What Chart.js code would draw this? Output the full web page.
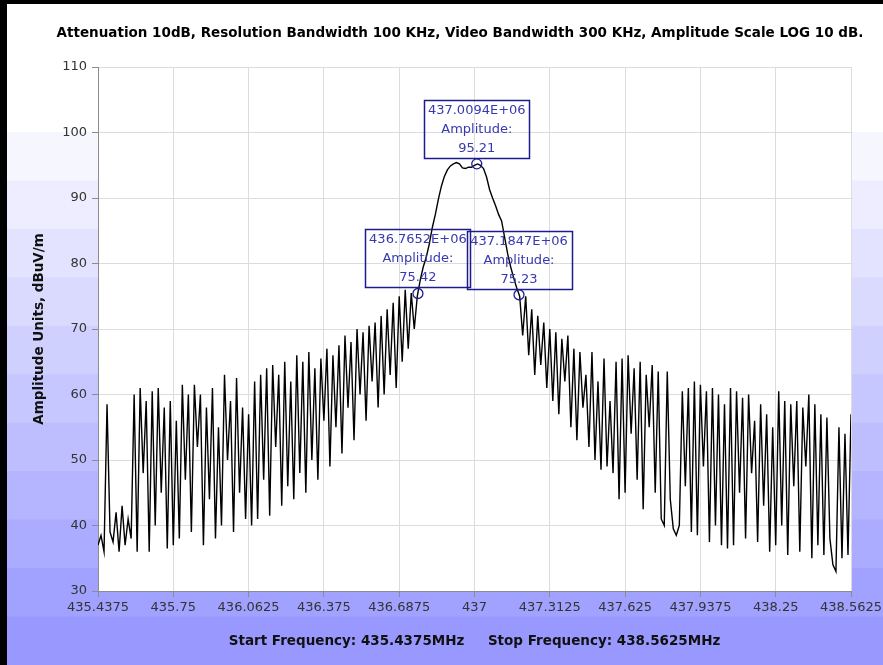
<!DOCTYPE html>
<html>
<head>
<meta charset="utf-8">
<script src="https://cdn.jsdelivr.net/npm/chart.js@4.4.1/dist/chart.umd.min.js"></script>
<style>
  html, body { margin: 0; padding: 0; background: #fff; }
  canvas { display: block; }
</style>
</head>
<body>
<canvas id="spectrum" width="883" height="665"></canvas>
<script>
// Textos
const chartTitle = 'Attenuation 10dB, Resolution Bandwidth 100 KHz, Video Bandwidth 300 KHz, Amplitude Scale LOG 10 dB.';
const yTitle = 'Amplitude Units, dBuV/m';
const xTitle = 'Start Frequency: 435.4375MHz\u00a0\u00a0\u00a0\u00a0 Stop Frequency: 438.5625MHz';

// Barrido (MHz)
const startFreq = 435.4375;
const stopFreq = 438.5625;
const freqTicks = [435.4375, 435.75, 436.0625, 436.375, 436.6875, 437, 437.3125, 437.625, 437.9375, 438.25, 438.5625];

// Amplitud medida en cada punto del barrido (dBuV/m)
const amplitudes = [
  37, 38.5, 36, 58.5, 39, 37.5, 42, 36, 43, 37, 41, 38,
  60, 36, 61, 48, 59, 36, 60.5, 40, 61, 45, 58, 36.5, 59, 37,
  56, 38, 61.5, 47, 60, 39, 61.5, 52, 60, 37, 58, 44, 61, 38, 55, 40, 63, 50, 59, 39, 62.5, 45, 58, 41, 57,
  40, 62, 41, 63, 47, 64, 41.5, 64.5, 52, 63, 43, 65, 46, 62, 44, 66, 48, 65, 45,
  66.5, 50, 64, 47, 65.5, 56, 67, 49, 66, 55, 67.5,
  51, 69, 58, 68, 53, 70, 60, 69.5, 56, 70.5, 62, 71, 58,
  72, 60, 73, 63, 74, 61, 75, 65, 76, 67, 75.5, 70,
  75, 77.5, 79.5, 81, 83, 85.5, 87.5, 89.8, 91.8, 93.3, 94.3, 94.9, 95.2, 95.4, 95.2, 94.6, 94.5, 94.7,
  94.7, 95.0, 95.2, 95.0, 94.5, 93.2, 91.3, 90.0, 88.8, 87.5, 86.5, 84.0, 81.5, 79.5, 77.8, 76.3, 75.0,
  69, 75, 66, 73, 63, 72, 64.5, 71, 61, 70,
  59, 69.5, 57, 68.5, 62, 69, 55, 67, 53, 66.5, 58, 63, 52,
  66.5, 50, 62, 48.5, 65.5, 49, 59, 48, 65,
  44, 65.5, 45, 66, 54, 64, 47, 65, 42.5, 63, 55, 64.5, 45, 63.5,
  41, 40, 63.5, 44, 39.5, 38.5, 40, 60.5, 46, 61,
  39, 62, 38.5, 61.5, 49, 60.5, 37.5, 61, 40, 60, 37, 58.5, 36.5, 61,
  37, 60.5, 45, 59.5, 38, 60, 48, 56, 37.5, 58.5, 43, 57, 36, 55,
  37, 60.5, 40, 59, 35.5, 58.5, 46, 59, 36, 58, 49, 60, 35, 58.5, 37, 57,
  35.5, 56.5, 38, 34, 33, 55, 35, 54, 35.5, 57
];

// Marcadores
const markerFreqs = [436.7652, 437.0094, 437.1847];
const markerAmps = [75.42, 95.21, 75.23];

const stepFreq = (stopFreq - startFreq) / (amplitudes.length - 1);
const tracePoints = amplitudes.map((a, i) => ({ x: startFreq + i * stepFreq, y: a }));
const markerPoints = markerFreqs.map((f, i) => ({ x: f, y: markerAmps[i] }));

const FONT = '"DejaVu Sans", Verdana, sans-serif';

// Fondo degradado, bordes y título
const background = {
    id: 'background',
    beforeDraw(chart) {
        const { ctx, chartArea } = chart;
        const W = chart.width, H = chart.height;
        ctx.save();
        ctx.fillStyle = '#ffffff';
        ctx.fillRect(0, 0, W, H);
        const bands = 11;
        const bandTop = 132;
        const bandH = (H - bandTop) / bands;
        for (let k = 0; k < bands; k++) {
            const t = k / (bands - 1);
            const c = Math.round(246 - t * (246 - 152));
            ctx.fillStyle = `rgb(${c},${c},255)`;
            ctx.fillRect(0, bandTop + k * bandH, W, bandH + 1);
        }
        ctx.fillStyle = '#000000';
        ctx.fillRect(0, 0, 7, H);
        ctx.fillRect(0, 0, W, 4);
        ctx.fillStyle = '#ffffff';
        ctx.fillRect(chartArea.left, chartArea.top, chartArea.right - chartArea.left, chartArea.bottom - chartArea.top);
        ctx.fillStyle = '#000000';
        ctx.font = 'bold 13.5px ' + FONT;
        ctx.textAlign = 'center';
        ctx.textBaseline = 'middle';
        ctx.fillText(chartTitle, 460, 33);
        ctx.restore();
    }
};

// Cajas de los marcadores
const markerLabels = {
    id: 'markerLabels',
    afterDatasetsDraw(chart) {
        const { ctx, scales: { x, y } } = chart;
        ctx.save();
        markerFreqs.forEach((f, i) => {
            const px = x.getPixelForValue(f);
            const py = y.getPixelForValue(markerAmps[i]);
            const w = 105, h = 58;
            const left = Math.round(px - w / 2) + 0.5;
            const top = Math.round(py - 6 - h) + 0.5;
            ctx.strokeStyle = '#1c1c8c';
            ctx.lineWidth = 1.5;
            ctx.strokeRect(left, top, w, h);
            ctx.fillStyle = '#3838b0';
            ctx.font = '13px ' + FONT;
            ctx.textAlign = 'center';
            ctx.textBaseline = 'middle';
            ctx.fillText(f.toFixed(4) + 'E+06', px, top + 10);
            ctx.fillText('Amplitude:', px, top + 29);
            ctx.fillText(markerAmps[i].toFixed(2), px, top + 48);
        });
        ctx.restore();
    }
};

new Chart(document.getElementById('spectrum').getContext('2d'), {
    type: 'line',
    data: {
        datasets: [{
            label: 'Markers',
            data: markerPoints,
            showLine: false,
            pointStyle: 'circle',
            pointRadius: 5,
            pointBorderWidth: 1.3,
            pointBorderColor: '#1c1c9c',
            pointBackgroundColor: 'rgba(0,0,0,0)',
            order: 0
        }, {
            label: 'Trace',
            data: tracePoints,
            borderColor: '#000000',
            borderWidth: 1.4,
            pointRadius: 0,
            tension: 0,
            fill: false,
            order: 1
        }]
    },
    options: {
        responsive: false,
        animation: false,
        devicePixelRatio: 1,
        layout: { padding: { top: 67, right: 32, left: 0, bottom: 0 } },
        plugins: {
            legend: { display: false },
            title: { display: false },
            tooltip: { enabled: false }
        },
        scales: {
            x: {
                type: 'linear',
                min: startFreq,
                max: stopFreq,
                afterBuildTicks: s => { s.ticks = freqTicks.map(v => ({ value: v })); },
                afterFit: s => { s.height = 74; s.paddingLeft = 0; s.paddingRight = 0; },
                ticks: {
                    autoSkip: false,
                    maxRotation: 0,
                    padding: 3,
                    color: '#333333',
                    font: { family: FONT, size: 13, lineHeight: 1.2 },
                    callback: v => String(v)
                },
                grid: { color: '#dcdcdc', tickColor: '#8c8c8c', tickLength: 6 },
                border: { color: '#8c8c8c' },
                title: {
                    display: true,
                    text: xTitle,
                    color: '#111111',
                    font: { family: FONT, size: 13.5, weight: 'bold', lineHeight: 1.2 },
                    padding: { top: 0, bottom: 15 }
                }
            },
            y: {
                min: 30,
                max: 110,
                afterFit: s => { s.width = 98; s.paddingTop = 0; s.paddingBottom = 0; },
                ticks: {
                    stepSize: 10,
                    padding: 5,
                    color: '#333333',
                    font: { family: FONT, size: 13, lineHeight: 1.2 }
                },
                grid: { color: '#dcdcdc', tickColor: '#8c8c8c', tickLength: 6 },
                border: { color: '#8c8c8c' },
                title: {
                    display: true,
                    text: yTitle,
                    color: '#111111',
                    font: { family: FONT, size: 13.5, weight: 'bold', lineHeight: 1.2 },
                    padding: { top: 31, bottom: 0 }
                }
            }
        }
    },
    plugins: [background, markerLabels]
});
</script>
</body>
</html>
